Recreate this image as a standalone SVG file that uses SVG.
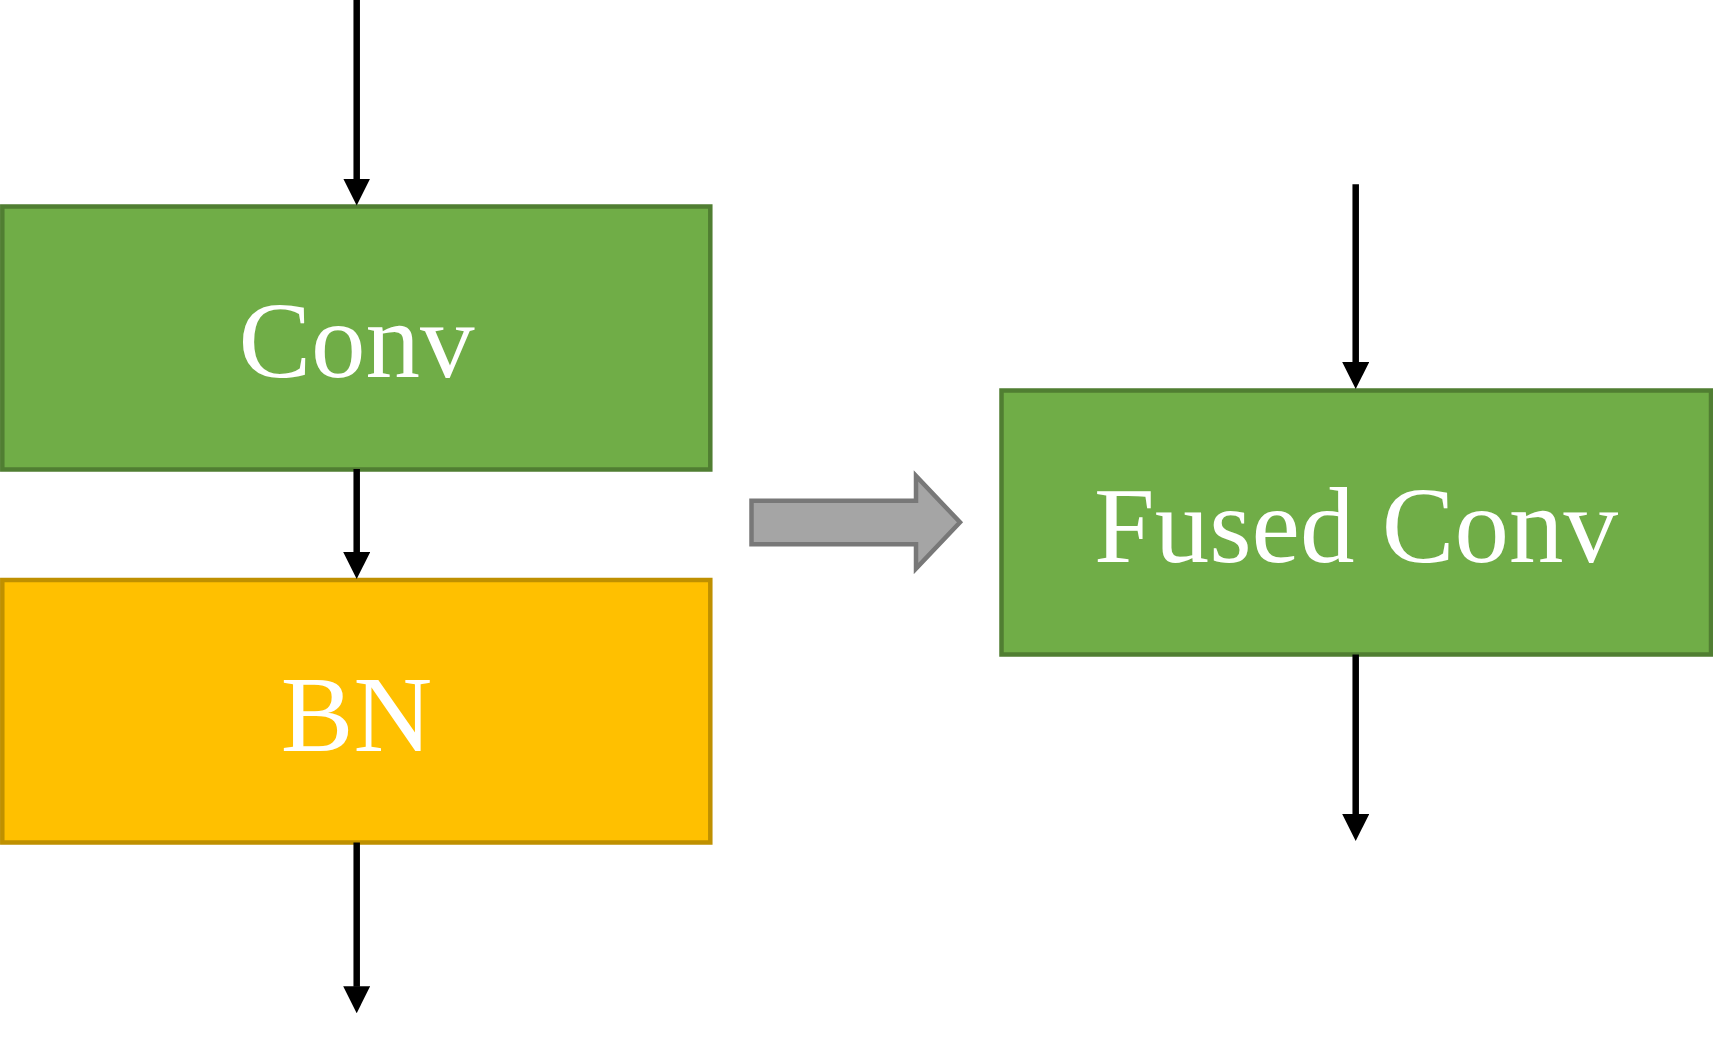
<svg xmlns="http://www.w3.org/2000/svg" width="1713" height="1042" viewBox="0 0 1713 1042">
  <style>
    .green { fill: #70AD47; stroke: #507E32; stroke-width: 4.5; }
    .yellow { fill: #FFC000; stroke: #BF9000; stroke-width: 4.5; }
    .label { font-family: "Liberation Serif", "Times New Roman", serif; font-size: 109px; fill: #FFFFFF; text-anchor: middle; }
    .conn { stroke: #000000; stroke-width: 6.5; fill: none; marker-end: url(#head); }
    .big { fill: #A5A5A5; stroke: #787878; stroke-width: 4.5; stroke-linejoin: miter; }
  </style>
  <defs>
    <marker id="head" viewBox="0 0 27 27" markerWidth="27" markerHeight="27" refX="0.5" refY="13.5" markerUnits="userSpaceOnUse" orient="auto">
      <path d="M0,0 L27,13.5 L0,27 Z" fill="#000000"/>
    </marker>
  </defs>
  <rect x="0" y="0" width="1713" height="1042" fill="#FFFFFF"/>
  <g id="conv">
    <rect class="green" x="2.3" y="206.5" width="708" height="263"/>
    <text class="label" x="356.5" y="377">Conv</text>
  </g>
  <g id="bn">
    <rect class="yellow" x="2.3" y="580" width="708" height="262.5"/>
    <text class="label" x="356.5" y="750.5">BN</text>
  </g>
  <g id="fused-conv">
    <rect class="green" x="1001.5" y="390.5" width="709.5" height="264"/>
    <text class="label" x="1356" y="561.5">Fused Conv</text>
  </g>
  <g id="transform-arrow">
    <polygon class="big" points="751.5,500.8 916,500.8 916,476 960,522.3 916,568.5 916,544.2 751.5,544.2"/>
  </g>
  <g id="connectors">
    <path class="conn" d="M356.7,0 L356.7,179"/>
    <path class="conn" d="M356.7,469 L356.7,552.5"/>
    <path class="conn" d="M356.7,842.5 L356.7,986.7"/>
    <path class="conn" d="M1355.7,184.3 L1355.7,362.5"/>
    <path class="conn" d="M1355.7,654.5 L1355.7,814.5"/>
  </g>
</svg>
